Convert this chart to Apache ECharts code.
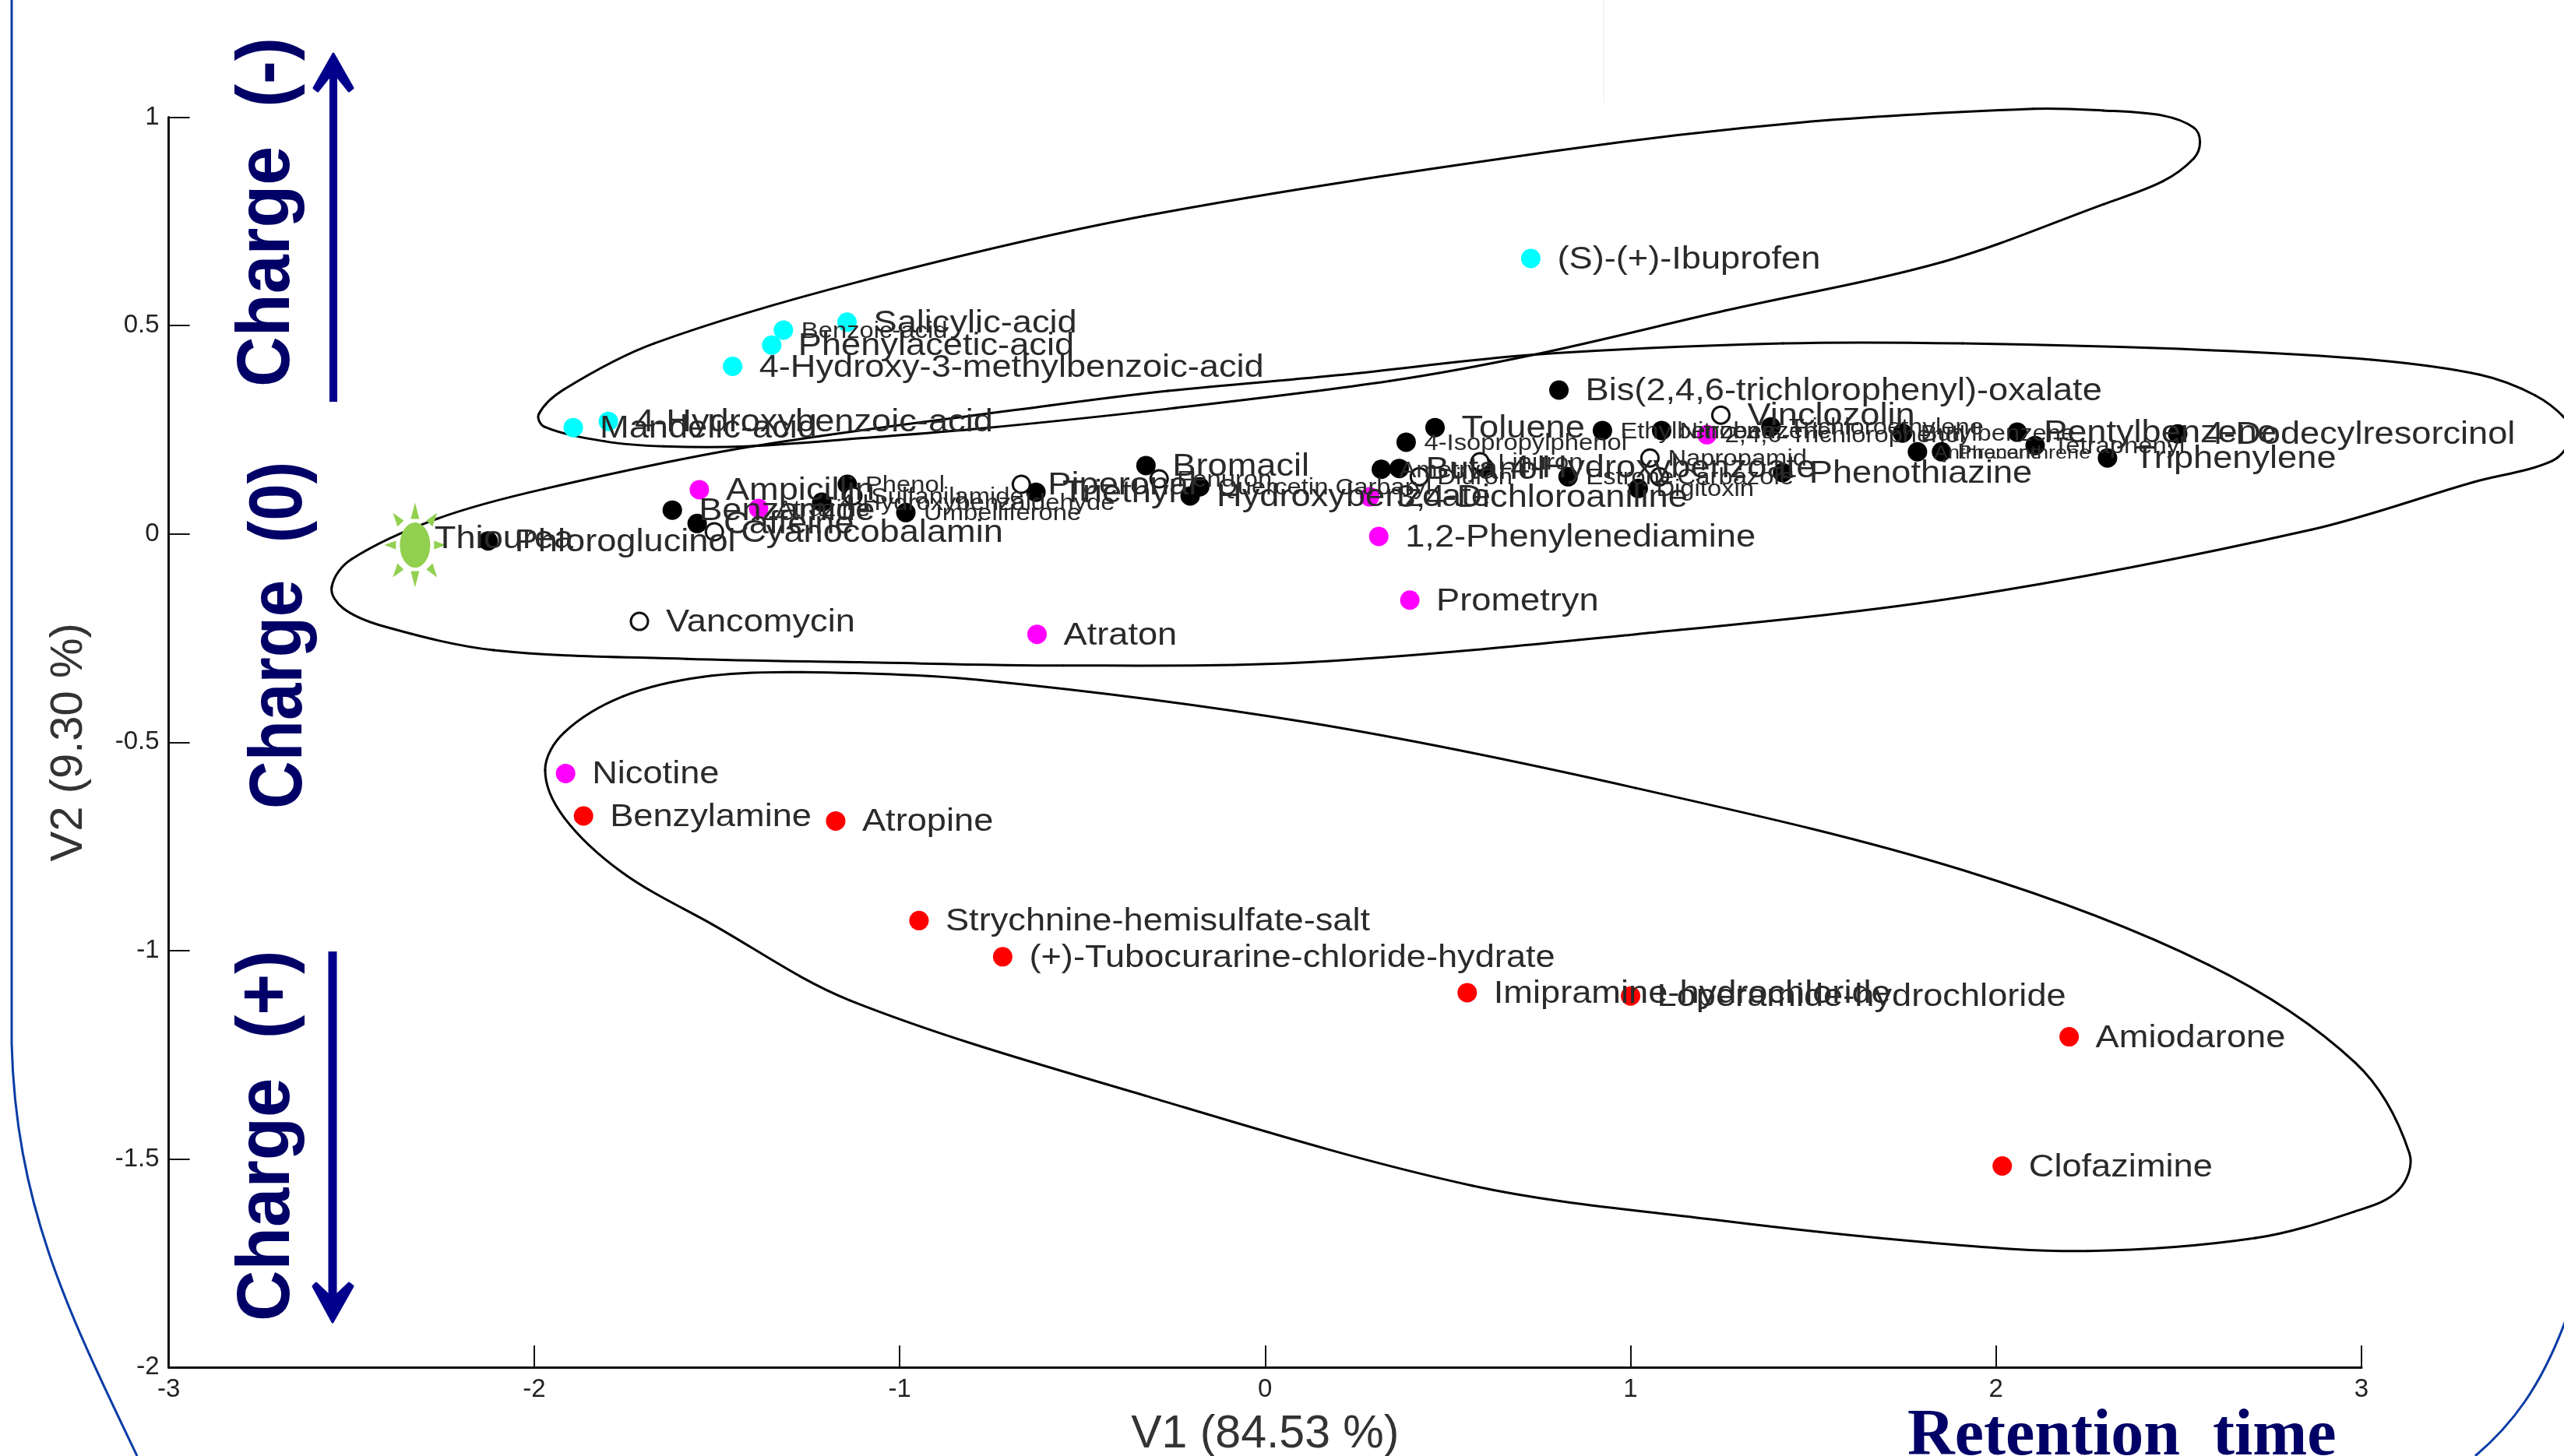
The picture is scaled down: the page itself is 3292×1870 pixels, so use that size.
<!DOCTYPE html>
<html><head><meta charset="utf-8">
<style>html,body{margin:0;padding:0;background:#fff}#c{width:3292px;height:1870px}</style>
<script src="https://cdn.jsdelivr.net/npm/echarts@6/dist/echarts.min.js"></script>
</head><body><div id="c"></div>
<script>
// Compounds: names, V1 and V2 scores
const cyanBigNames=["(S)-(+)-Ibuprofen","Salicylic-acid","Phenylacetic-acid","4-Hydroxy-3-methylbenzoic-acid","4-Hydroxybenzoic-acid","Mandelic-acid"];
const cyanBigV1=[0.727,-1.144,-1.350,-1.457,-1.797,-1.893];
const cyanBigV2=[0.661,0.508,0.453,0.402,0.270,0.255];
const cyanSmallNames=["Benzoic-acid"];
const cyanSmallV1=[-1.318];
const cyanSmallV2=[0.489];

const blackBigNames=["Phloroglucinol","Benzamide","Caffeine","Triethyl","Bromacil","Hydroxybenzoate","Butanol","4-Hydroxybenzoate","Toluene","Bis(2,4,6-trichlorophenyl)-oxalate","Phenothiazine","Pentylbenzene","Triphenylene","4-Dodecylresorcinol"];
const blackBigV1=[-2.126,-1.622,-1.554,-0.627,-0.326,-0.205,0.367,0.599,0.465,0.804,1.416,2.058,2.305,2.497];
const blackBigV2=[-0.017,0.057,0.025,0.100,0.164,0.091,0.157,0.160,0.255,0.345,0.147,0.244,0.182,0.240];
const blackSmallNames=["Phenol","4-Hydroxybenzaldehyde","Umbelliferone","Quercetin Carbaryl","Ametryn","4-Isopropylphenol","Ethylbenzene","Nitrobenzene","Estrone","Digitoxin","Trichloroethylene","Butylbenzene","Tetraphenyl"];
const blackSmallV1=[-1.143,-1.213,-0.983,-0.179,0.318,0.386,0.923,1.085,0.829,1.021,1.384,1.744,2.107];
const blackSmallV2=[0.119,0.076,0.051,0.113,0.155,0.220,0.248,0.248,0.137,0.109,0.257,0.242,0.212];
const blackTinyNames=["Anthracene","Phenanthrene"];
const blackTinyV1=[1.785,1.851];
const blackTinyV2=[0.197,0.197];

const openBigNames=["Vancomycin","Cyanocobalamin","Piperonal","Vinclozolin"];
const openBigV1=[-1.712,-1.507,-0.667,1.247];
const openBigV2=[-0.210,0.005,0.119,0.285];
const openSmallNames=["Sulfanilamide","Fenuron","Diuron","Linuron","Napropamid","Carbazole"];
const openSmallV1=[-1.128,-0.290,0.422,0.588,1.053,1.079];
const openSmallV2=[0.091,0.132,0.137,0.173,0.182,0.137];

const magentaBigNames=["Ampicillin","3,4-Dichloroaniline","1,2-Phenylenediamine","Prometryn","Atraton","Nicotine"];
const magentaBigV1=[-1.548,0.286,0.311,0.396,-0.624,-1.914];
const magentaBigV2=[0.106,0.089,-0.006,-0.159,-0.241,-0.575];
const magentaSmallNames=["Atrazine","2,4,6-Trichlorophenol"];
const magentaSmallV1=[-1.386,1.209];
const magentaSmallV2=[0.061,0.238];

const redNames=["Benzylamine","Atropine","Strychnine-hemisulfate-salt","(+)-Tubocurarine-chloride-hydrate","Imipramine-hydrochloride","Loperamide-hydrochloride","Amiodarone","Clofazimine"];
const redV1=[-1.865,-1.175,-0.947,-0.718,0.553,1.000,2.200,2.017];
const redV2=[-0.677,-0.689,-0.928,-1.015,-1.101,-1.109,-1.207,-1.517];

const voidName=["Thiourea"];
const voidV1=[-2.326];
const voidV2=[-0.027];

// Hand-drawn grouping outlines
const acidLoopV1=[-1.987,-1.918,-1.672,-1.108,-0.329,0.803,1.462,2.102,2.294,2.456,2.541,2.558,2.541,2.456,2.294,1.855,1.260,0.736,0.342,-0.266,-0.777,-1.099,-1.417,-1.645,-1.806,-1.972];
const acidLoopV2=[0.288,0.347,0.457,0.606,0.763,0.920,0.987,1.020,1.016,1.004,0.975,0.940,0.901,0.846,0.791,0.653,0.536,0.430,0.367,0.300,0.253,0.230,0.210,0.210,0.222,0.257];
const neutralLoopV1=[-2.554,-2.500,-2.263,-1.972,-1.403,-0.589,-0.266,0.213,0.736,1.417,1.909,2.581,3.028,3.324,3.476,3.565,3.574,3.521,3.306,2.863,1.909,1.014,0.119,-0.553,-1.108,-1.583,-2.111,-2.411,-2.522];
const neutralLoopV2=[-0.128,-0.061,0.037,0.108,0.210,0.308,0.343,0.382,0.430,0.457,0.457,0.441,0.418,0.382,0.332,0.269,0.230,0.175,0.124,0.010,-0.151,-0.241,-0.308,-0.316,-0.308,-0.300,-0.279,-0.222,-0.179];
const baseLoopV1=[-1.970,-1.918,-1.757,-1.538,-1.269,-0.777,0.119,1.014,1.909,2.581,2.984,3.131,3.100,2.979,2.710,2.249,1.820,1.229,0.566,-0.329,-1.135,-1.515,-1.757,-1.918];
const baseLoopV2=[-0.567,-0.477,-0.390,-0.343,-0.332,-0.351,-0.453,-0.610,-0.807,-1.034,-1.270,-1.486,-1.576,-1.627,-1.690,-1.721,-1.701,-1.646,-1.564,-1.348,-1.120,-0.936,-0.814,-0.681];

const xTicks={min:-3,max:3,interval:1};
const yTicks={min:-2,max:1,interval:0.5};
const xName="V1 (84.53 %)", yName="V2 (9.30 %)";

const pair=(a,b)=>a.map((v,i)=>[v,b[i]]);
const FAMILY='"Liberation Sans"';
const NAVY='#000066', ARROW='#00008c', FRAME='#0a3ca5';

function marks(xs,ys,color,open){
  return {type:'scatter',data:pair(xs,ys),symbol:'circle',symbolSize:open?22:25,silent:true,z:3,
    itemStyle:open?{color:'#fff',borderColor:'#111',borderWidth:3,opacity:1}:{color:color,opacity:1}};
}
// Closed smooth outline: one Bezier segment per outline point, placed through the axes
function unit(p,q){const dx=q[0]-p[0],dy=q[1]-p[1],l=Math.hypot(dx,dy)||1;return [dx/l,dy/l];}
function loop(xs,ys){
  const pts=pair(xs,ys), n=pts.length;
  return {type:'custom',coordinateSystem:'cartesian2d',clip:false,silent:true,z:2,data:pts,encode:{x:0,y:1},
    renderItem:function(params,api){
      const i=params.dataIndex;
      const a=api.coord(pts[(i-1+n)%n]), b=api.coord(pts[i]), c=api.coord(pts[(i+1)%n]), d=api.coord(pts[(i+2)%n]);
      const h=Math.hypot(c[0]-b[0],c[1]-b[1])/3, tb=unit(a,c), tc=unit(b,d);
      return {type:'bezierCurve',silent:true,
        shape:{x1:b[0],y1:b[1],cpx1:b[0]+tb[0]*h,cpy1:b[1]+tb[1]*h,cpx2:c[0]-tc[0]*h,cpy2:c[1]-tc[1]*h,x2:c[0],y2:c[1]},
        style:{fill:'none',stroke:'#000',lineWidth:3,lineCap:'round'}};
    }};
}
const BIG={dx:34,fs:40,dy:2}, SMALL={dx:23,fs:29,dy:2}, TINY={dx:21,fs:24,dy:2};
const rows=[];
function addLabels(names,xs,ys,k,dx,dy){
  names.forEach((n,i)=>rows.push({v:[xs[i],ys[i]],n,dx:dx==null?k.dx:dx,dy:dy==null?k.dy:dy,fs:k.fs}));
}
addLabels(cyanBigNames,cyanBigV1,cyanBigV2,BIG);
addLabels(cyanSmallNames,cyanSmallV1,cyanSmallV2,SMALL);
addLabels(voidName,voidV1,voidV2,BIG,25,-7);
addLabels(blackBigNames,blackBigV1,blackBigV2,BIG);
addLabels(blackSmallNames,blackSmallV1,blackSmallV2,SMALL);
addLabels(blackTinyNames,blackTinyV1,blackTinyV2,TINY);
addLabels(openBigNames,openBigV1,openBigV2,BIG);
addLabels(openSmallNames,openSmallV1,openSmallV2,SMALL);
addLabels(magentaBigNames,magentaBigV1,magentaBigV2,BIG);
addLabels(magentaSmallNames,magentaSmallV1,magentaSmallV2,SMALL);
addLabels(redNames,redV1,redV2,BIG);

const SUN='path://M39.5 25.5A19.5 29 0 1 1 39.5 83.5A19.5 29 0 1 1 39.5 25.5Z'+
 'M39.5 0L45 21L34 21ZM39.5 109L45 88L34 88ZM0 54.5L15 49L15 60ZM79 54.5L64 49L64 60Z'+
 'M11 13L25 23L17 31ZM68 13L54 23L62 31ZM11 96L25 86L17 78ZM68 96L54 86L62 78Z';

function charge(text,xPos,yPos,stretch){
  return {type:'text',x:xPos,y:yPos,rotation:Math.PI/2,scaleX:stretch,silent:true,z:5,
    style:{text,fill:NAVY,fontFamily:FAMILY,fontWeight:'bold',fontSize:96,align:'left',verticalAlign:'middle'}};
}
const decor=[
 {type:'line',silent:true,z:1,shape:{x1:15,y1:0,x2:15,y2:1340},style:{stroke:FRAME,lineWidth:3}},
 {type:'bezierCurve',silent:true,z:1,shape:{x1:15,y1:1340,cpx1:20,cpy1:1550,cpx2:90,cpy2:1690,x2:176,y2:1870},style:{fill:'none',stroke:FRAME,lineWidth:3}},
 {type:'bezierCurve',silent:true,z:1,shape:{x1:3294,y1:1696,cpx1:3262,cpy1:1782,cpx2:3225,cpy2:1830,x2:3178,y2:1870},style:{fill:'none',stroke:FRAME,lineWidth:3}},
 {type:'line',silent:true,z:1,shape:{x1:2059,y1:0,x2:2059,y2:132},style:{stroke:'#f4f4f4',lineWidth:2}},
 {type:'line',silent:true,z:5,shape:{x1:428,y1:516,x2:428,y2:85},style:{stroke:ARROW,lineWidth:10}},
 {type:'polygon',silent:true,z:5,shape:{points:[[428,69],[453,113],[448,117],[428,92],[408,117],[403,113]]},style:{fill:ARROW,stroke:ARROW,lineWidth:3,lineJoin:'round'}},
 {type:'line',silent:true,z:5,shape:{x1:427,y1:1222,x2:427,y2:1680},style:{stroke:ARROW,lineWidth:11}},
 {type:'polygon',silent:true,z:5,shape:{points:[[427,1698],[453,1652],[448,1648],[427,1668],[406,1648],[402,1652]]},style:{fill:ARROW,stroke:ARROW,lineWidth:3,lineJoin:'round'}},
 charge('Charge  (-)',345,497,0.935),
 charge('Charge  (0)',361,1039,0.89),
 charge('Charge  (+)',345,1697,0.945),
 {type:'text',x:2449,y:1846,silent:true,z:5,style:{text:'Retention  time',fill:NAVY,fontFamily:'"Liberation Serif"',fontWeight:'bold',fontSize:84,align:'left',verticalAlign:'middle'}}
];

const chart=echarts.init(document.getElementById('c'),null,{renderer:'canvas'});
chart.setOption({
 animation:false,backgroundColor:'#fff',
 grid:{left:216.6,right:260,top:150.5,bottom:114,containLabel:false,outerBoundsMode:'none'},
 xAxis:{type:'value',min:xTicks.min,max:xTicks.max,interval:xTicks.interval,name:xName,nameLocation:'middle',nameGap:57,
   nameTextStyle:{fontFamily:FAMILY,fontSize:59,color:'#333'},
   axisLine:{onZero:false,lineStyle:{color:'#111',width:3}},axisTick:{inside:true,length:28,lineStyle:{color:'#111',width:2}},
   axisLabel:{fontFamily:FAMILY,fontSize:33,color:'#222',margin:12,showMinLabel:true,showMaxLabel:true},splitLine:{show:false}},
 yAxis:{type:'value',min:yTicks.min,max:yTicks.max,interval:yTicks.interval,name:yName,nameLocation:'middle',nameGap:99,nameRotate:90,
   nameTextStyle:{fontFamily:FAMILY,fontSize:58,color:'#333'},
   axisLine:{onZero:false,lineStyle:{color:'#111',width:3}},axisTick:{inside:true,length:27,lineStyle:{color:'#111',width:2}},
   axisLabel:{fontFamily:FAMILY,fontSize:33,color:'#222',margin:12,showMinLabel:true,showMaxLabel:true},splitLine:{show:false}},
 graphic:decor,
 series:[
  loop(acidLoopV1,acidLoopV2),loop(neutralLoopV1,neutralLoopV2),loop(baseLoopV1,baseLoopV2),
  marks(blackBigV1,blackBigV2,'#000'),marks(blackSmallV1,blackSmallV2,'#000'),marks(blackTinyV1,blackTinyV2,'#000'),
  marks(openBigV1,openBigV2,null,true),marks(openSmallV1,openSmallV2,null,true),
  marks(magentaBigV1,magentaBigV2,'#ff00ff'),marks(magentaSmallV1,magentaSmallV2,'#ff00ff'),
  marks(redV1,redV2,'#ff0000'),
  marks(cyanBigV1,cyanBigV2,'#00ffff'),marks(cyanSmallV1,cyanSmallV2,'#00ffff'),
  {type:'scatter',data:pair(voidV1,voidV2),symbol:SUN,symbolSize:[79,109],silent:true,z:3,itemStyle:{color:'#92d050',opacity:1}},
  {type:'custom',silent:true,z:4,clip:false,coordinateSystem:'cartesian2d',
   data:rows.map(r=>r.v),encode:{x:0,y:1},
   renderItem:function(params,api){
     const r=rows[params.dataIndex];
     const c=api.coord([api.value(0),api.value(1)]);
     return {type:'text',x:c[0]+r.dx,y:c[1]+r.dy,scaleX:1.13,silent:true,
       style:{text:r.n,fill:'#2a2a2a',fontFamily:FAMILY,fontSize:r.fs,align:'left',verticalAlign:'middle'}};
   }}
 ]
});
</script></body></html>
